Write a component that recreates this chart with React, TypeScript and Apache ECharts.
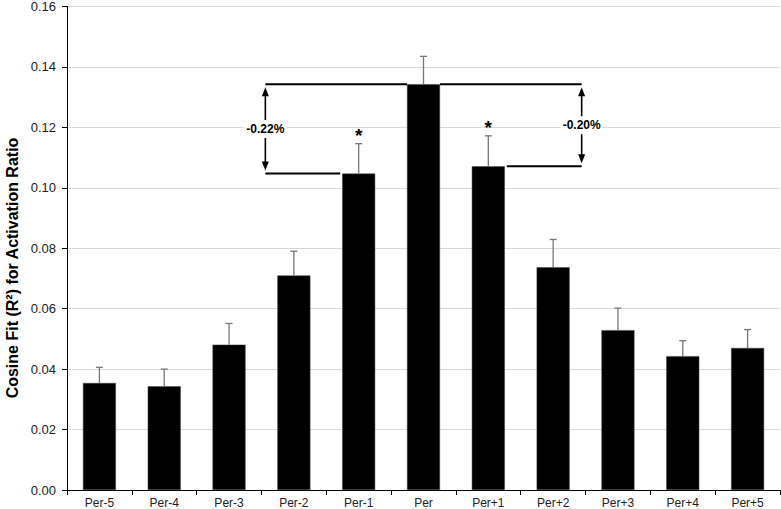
import React, { useEffect, useRef } from "react";
import * as echarts from "echarts";

const categories = ["Per-5", "Per-4", "Per-3", "Per-2", "Per-1", "Per", "Per+1", "Per+2", "Per+3", "Per+4", "Per+5"];
const means = [0.0354, 0.0343, 0.0481, 0.071, 0.1047, 0.1343, 0.1071, 0.0737, 0.0529, 0.0443, 0.047];
const errorTops = [0.0406, 0.04, 0.0551, 0.079, 0.1146, 0.1435, 0.1172, 0.0829, 0.0602, 0.0494, 0.0531];
const significant = [0, 0, 0, 0, 1, 0, 1, 0, 0, 0, 0];
const bracketRefIndex = [5, 5];
const bracketCmpIndex = [4, 6];
const bracketSide = [-1, 1];
const bracketLabels = ["-0.22%", "-0.20%"];
const yAxisTitle = "Cosine Fit (R\u00B2) for Activation Ratio";

const FONT = "'Liberation Sans', Arial, Helvetica, sans-serif";
const BAR_W = 33;

export default function App() {
  const ref = useRef<HTMLDivElement>(null);
  useEffect(() => {
    if (!ref.current) return;
    const chart = echarts.init(ref.current, null, { renderer: "svg" });
    const errData = categories.map((_, i) => [i, means[i], errorTops[i], significant[i]]);
    const bracketData = bracketRefIndex.map((r, k) => [
      r,
      means[r],
      bracketCmpIndex[k],
      means[bracketCmpIndex[k]],
      bracketSide[k],
    ]);
    chart.setOption({
      animation: false,
      grid: { left: 67, right: 1, top: 4, bottom: 18, containLabel: false },
      graphic: [
        {
          type: "text",
          x: 12,
          y: 268,
          rotation: Math.PI / 2,
          style: {
            text: yAxisTitle,
            fontFamily: FONT,
            fontSize: 16,
            fontWeight: "bold",
            fill: "#000",
            align: "center",
            verticalAlign: "middle",
          },
        },
      ],
      xAxis: {
        type: "category",
        data: categories,
        axisLine: { lineStyle: { color: "#000", width: 1 } },
        axisTick: { show: true, length: 5, lineStyle: { color: "#000" } },
        axisLabel: { color: "#222", fontFamily: FONT, fontSize: 12, margin: 7 },
      },
      yAxis: {
        type: "value",
        min: 0,
        max: 0.16,
        interval: 0.02,
        axisLine: { show: true, lineStyle: { color: "#000", width: 1 } },
        axisTick: { show: true, length: 5, lineStyle: { color: "#000" } },
        axisLabel: {
          color: "#222",
          fontFamily: FONT,
          fontSize: 13,
          margin: 11,
          formatter: (v: number) => v.toFixed(2),
        },
        splitLine: { show: true, lineStyle: { color: "#d9d9d9", width: 1 } },
      },
      series: [
        {
          type: "bar",
          data: means,
          barWidth: BAR_W,
          itemStyle: { color: "#000", borderColor: "#444", borderWidth: 0.5 },
          z: 2,
        },
        {
          type: "custom",
          data: errData,
          encode: { x: 0, y: 1 },
          z: 3,
          renderItem: (params: any, api: any) => {
            const x = api.value(0);
            const base = api.coord([x, api.value(1)]);
            const top = api.coord([x, api.value(2)]);
            const children: any[] = [
              {
                type: "line",
                shape: { x1: base[0], y1: base[1], x2: top[0], y2: top[1] },
                style: { stroke: "#777", lineWidth: 1.3 },
              },
              {
                type: "line",
                shape: { x1: top[0] - 3.5, y1: top[1], x2: top[0] + 3.5, y2: top[1] },
                style: { stroke: "#777", lineWidth: 1.3 },
              },
            ];
            if (api.value(3) === 1) {
              children.push({
                type: "text",
                x: top[0],
                y: top[1] - 8,
                style: {
                  text: "*",
                  fontFamily: FONT,
                  fontSize: 19,
                  fontWeight: "bold",
                  fill: "#000",
                  align: "center",
                  verticalAlign: "middle",
                },
              });
            }
            return { type: "group", children };
          },
        },
        {
          type: "custom",
          data: bracketData,
          encode: { x: 0, y: 1 },
          z: 4,
          renderItem: (params: any, api: any) => {
            const bw = api.size([1, 0])[0];
            const refIdx = api.value(0);
            const cmpIdx = api.value(2);
            const dir = api.value(4);
            const pTop = api.coord([refIdx, api.value(1)]);
            const pLow = api.coord([cmpIdx, api.value(3)]);
            const ax = pTop[0] + dir * 2.44 * bw;
            const half = BAR_W / 2;
            const yT = pTop[1];
            const yL = pLow[1];
            const label = bracketLabels[params.dataIndex];
            const black = { stroke: "#000", lineWidth: 2 };
            return {
              type: "group",
              children: [
                { type: "line", shape: { x1: ax, y1: yT, x2: pTop[0] + dir * half, y2: yT }, style: black },
                { type: "line", shape: { x1: ax, y1: yL, x2: pLow[0] + dir * (half + 2), y2: yL }, style: black },
                { type: "line", shape: { x1: ax, y1: yT + 10, x2: ax, y2: yL - 10 }, style: { stroke: "#000", lineWidth: 1.6 } },
                {
                  type: "polygon",
                  shape: { points: [[ax, yT + 3], [ax - 3.5, yT + 12], [ax + 3.5, yT + 12]] },
                  style: { fill: "#000" },
                },
                {
                  type: "polygon",
                  shape: { points: [[ax, yL - 3], [ax - 3.5, yL - 12], [ax + 3.5, yL - 12]] },
                  style: { fill: "#000" },
                },
                {
                  type: "text",
                  x: ax,
                  y: (yT + yL) / 2,
                  style: {
                    text: label,
                    fontFamily: FONT,
                    fontSize: 12,
                    fontWeight: "bold",
                    fill: "#000",
                    align: "center",
                    verticalAlign: "middle",
                    backgroundColor: "#fff",
                    padding: [3, 2],
                  },
                },
              ],
            };
          },
        },
      ],
    });
    return () => chart.dispose();
  }, []);
  return (
    <div
      ref={ref}
      style={{ position: "fixed", left: 0, top: 0, width: 781, height: 509, background: "#fff" }}
    />
  );
}
